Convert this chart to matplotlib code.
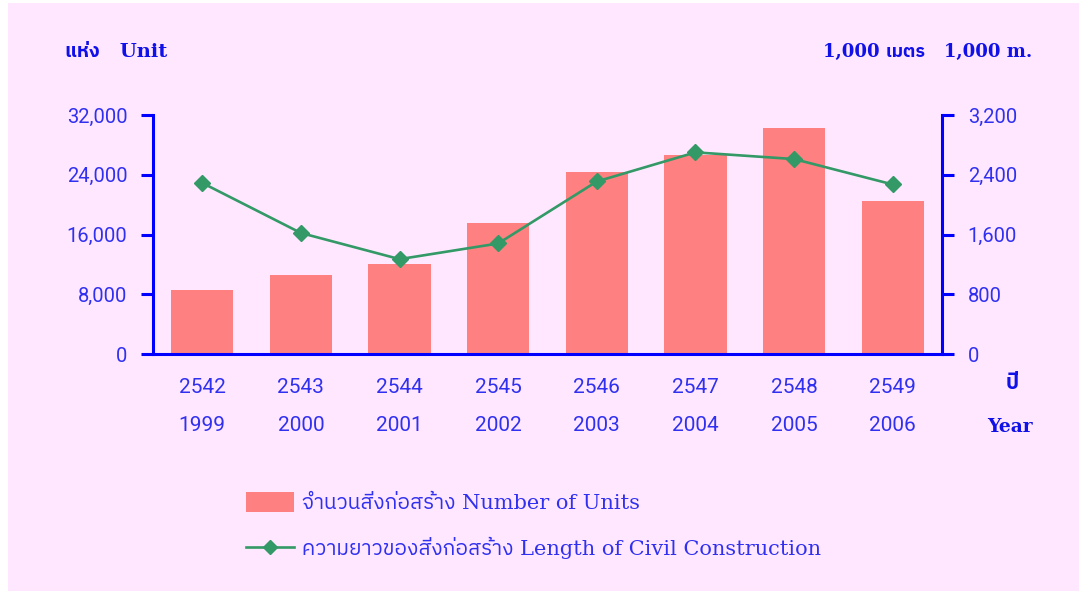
import matplotlib
matplotlib.use("Agg")
import matplotlib.pyplot as plt
from matplotlib import font_manager
from matplotlib.ft2font import FT2Font
from matplotlib.patches import Rectangle, Patch
from matplotlib.lines import Line2D
from matplotlib.ticker import FuncFormatter, FixedLocator

# ---------------- data ----------------
years_be = ["2542", "2543", "2544", "2545", "2546", "2547", "2548", "2549"]
years_ce = ["1999", "2000", "2001", "2002", "2003", "2004", "2005", "2006"]
units = [8600, 10600, 12100, 17600, 24400, 26700, 30300, 20500]
length_km = [2290, 1620, 1270, 1480, 2310, 2700, 2610, 2270]
left_ticks = [0, 8000, 16000, 24000, 32000]
right_ticks = [0, 800, 1600, 2400, 3200]
bar_label = "จำนวนสิ่งก่อสร้าง Number of Units"
line_label = "ความยาวของสิ่งก่อสร้าง Length of Civil Construction"

# ---------------- fonts ----------------
def find_thai_fonts():
    found = []
    seen = set()
    for f in font_manager.fontManager.ttflist:
        if f.name in seen:
            continue
        try:
            cm = FT2Font(f.fname).get_charmap()
        except Exception:
            continue
        if 0x0E01 in cm and 0x0E33 in cm:
            seen.add(f.name)
            found.append(f.name)
    found.sort(key=lambda n: (0 if "Thai" in n else 1, n))
    return found

thai = find_thai_fonts()
sans = ["Roboto"] + thai + ["DejaVu Sans"]
serif = ["DejaVu Serif"] + thai + ["DejaVu Sans"]
bold_fam = ["DejaVu Serif"] + thai + ["DejaVu Sans"]

TXT = "#3030F0"
BOLD = "#1010E8"
AX = "#0000FF"
BAR = "#FF8080"
LINE = "#339966"
BG = "#FFE8FF"

W, H = 1079, 591
fig = plt.figure(figsize=(W / 100, H / 100), dpi=100)
fig.patch.set_facecolor("white")
fig.patches.append(Rectangle((8 / W, 0), 1, 1 - 3 / H, transform=fig.transFigure,
                             facecolor=BG, edgecolor="none", zorder=-10))

x0, x1 = 153 / W, 942 / W
y0, y1 = 1 - 354 / H, 1 - 115 / H
ax = fig.add_axes([x0, y0, x1 - x0, y1 - y0])
ax.set_facecolor("none")
pos = list(range(len(years_be)))
ax.bar(pos, units, width=0.63, color=BAR, zorder=2)
ax.set_xlim(-0.5, len(pos) - 0.5)
ax.set_ylim(0, 32000)
ax.yaxis.set_major_locator(FixedLocator(left_ticks))
ax.yaxis.set_major_formatter(FuncFormatter(lambda v, p: f"{int(v):,}"))
ax.set_xticks(pos)
ax.set_xticklabels([f"{a}\n{b}" for a, b in zip(years_be, years_ce)],
                   family=sans, fontsize=15, color=TXT, linespacing=2.3)
ax.tick_params(axis="x", length=0, pad=17)
ax.tick_params(axis="y", direction="out", length=8.5, width=2.2, color=AX,
               labelsize=14.5, labelcolor=TXT, pad=10)
for lab in ax.get_yticklabels():
    lab.set_family(sans)
for s in ["top", "right"]:
    ax.spines[s].set_visible(False)
for s in ["left", "bottom"]:
    ax.spines[s].set_color(AX)
    ax.spines[s].set_linewidth(2.2)

ax2 = ax.twinx()
ax2.set_facecolor("none")
ax2.plot(pos, length_km, color=LINE, lw=1.9, marker="D", ms=8, zorder=3)
ax2.set_ylim(0, 3200)
ax2.yaxis.set_major_locator(FixedLocator(right_ticks))
ax2.yaxis.set_major_formatter(FuncFormatter(lambda v, p: f"{int(v):,}"))
ax2.tick_params(axis="y", direction="out", length=8.5, width=2.2, color=AX,
                labelsize=14.5, labelcolor=TXT, pad=10)
for lab in ax2.get_yticklabels():
    lab.set_family(sans)
for s in ["top", "left", "bottom"]:
    ax2.spines[s].set_visible(False)
ax2.spines["right"].set_color(AX)
ax2.spines["right"].set_linewidth(2.2)

# axis titles
fig.text(65 / W, 1 - 52 / H, "แห่ง   Unit", family=bold_fam, fontweight="bold",
         fontsize=14, color=BOLD, ha="left", va="center")
fig.text(1032 / W, 1 - 52 / H, "1,000 เมตร   1,000 m.", family=bold_fam,
         fontweight="bold", fontsize=13, color=BOLD, ha="right", va="center")
fig.text(1012 / W, 1 - 383 / H, "ปี", family=bold_fam, fontweight="bold",
         fontsize=15, color=BOLD, ha="center", va="center")
fig.text(1010 / W, 1 - 427 / H, "Year", family=bold_fam, fontweight="bold",
         fontsize=13.5, color=BOLD, ha="center", va="center")

handles = [Patch(facecolor=BAR, edgecolor="none"),
           Line2D([], [], color=LINE, lw=1.9, marker="D", ms=7)]
fig.legend(handles, [bar_label, line_label], loc="upper left",
           bbox_to_anchor=(238 / W, 1 - 484 / H), frameon=False,
           prop={"family": serif, "size": 15}, labelcolor=TXT,
           handlelength=2.3, handleheight=1.05, handletextpad=0.35,
           labelspacing=1.15, borderaxespad=0)

fig.savefig("out.png", dpi=100, facecolor=fig.get_facecolor())
